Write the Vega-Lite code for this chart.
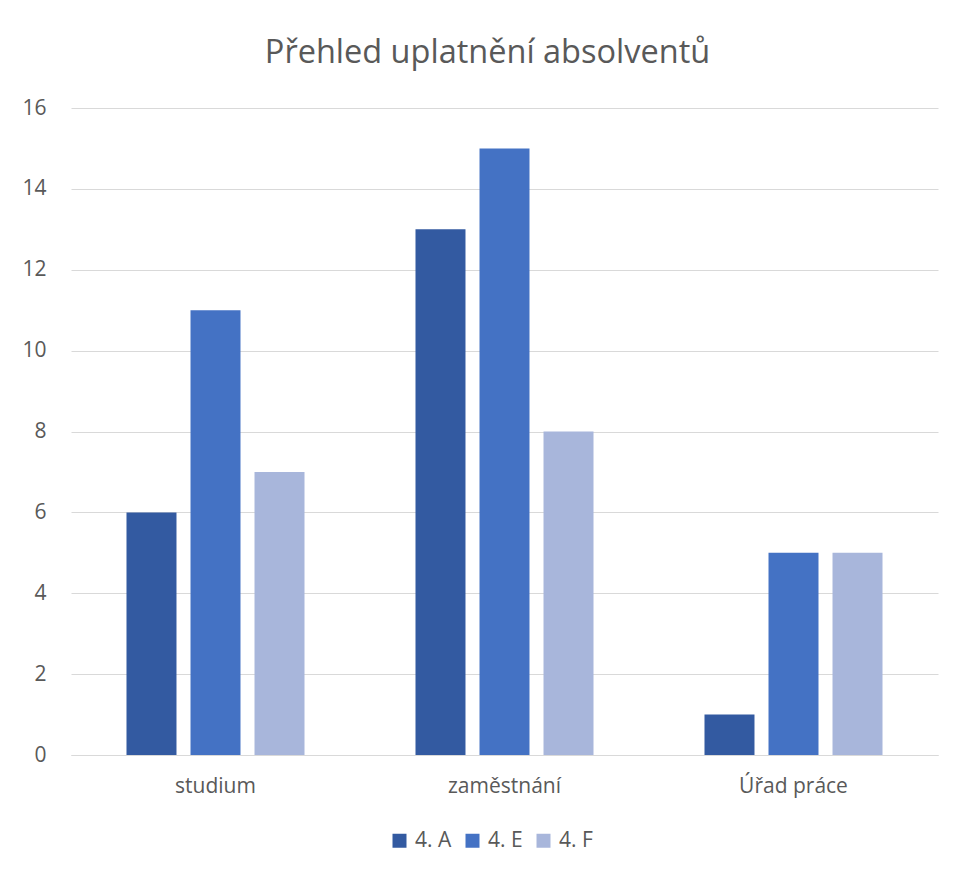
{
  "$schema": "https://vega.github.io/schema/vega-lite/v6.json",
  "width": 867,
  "height": 647,
  "autosize": {"type": "none"},
  "padding": {"left": 71, "top": 108, "right": 19, "bottom": 117},
  "background": "white",
  "title": {
    "text": "Přehled uplatnění absolventů",
    "font": "Open Sans",
    "fontSize": 32.5,
    "fontWeight": "normal",
    "color": "#595959",
    "anchor": "middle",
    "baseline": "alphabetic",
    "offset": 2,
    "dx": -17
  },
  "data": {
    "values": [
      {"kategorie": "studium", "trida": "4. A", "pocet": 6},
      {"kategorie": "studium", "trida": "4. E", "pocet": 11},
      {"kategorie": "studium", "trida": "4. F", "pocet": 7},
      {"kategorie": "zaměstnání", "trida": "4. A", "pocet": 13},
      {"kategorie": "zaměstnání", "trida": "4. E", "pocet": 15},
      {"kategorie": "zaměstnání", "trida": "4. F", "pocet": 8},
      {"kategorie": "Úřad práce", "trida": "4. A", "pocet": 1},
      {"kategorie": "Úřad práce", "trida": "4. E", "pocet": 5},
      {"kategorie": "Úřad práce", "trida": "4. F", "pocet": 5}
    ]
  },
  "mark": {"type": "bar"},
  "encoding": {
    "x": {
      "field": "kategorie",
      "type": "nominal",
      "sort": ["studium", "zaměstnání", "Úřad práce"],
      "scale": {"paddingInner": 0, "paddingOuter": 0},
      "axis": {
        "title": null,
        "labelAngle": 0,
        "ticks": false,
        "domain": true,
        "domainColor": "#d9d9d9",
        "domainWidth": 1,
        "labelFont": "Open Sans",
        "labelFontSize": 21,
        "labelColor": "#595959",
        "labelPadding": 20
      }
    },
    "xOffset": {
      "field": "trida",
      "type": "nominal",
      "sort": ["4. A", "4. E", "4. F"],
      "scale": {"paddingInner": 0.219, "paddingOuter": 0.867}
    },
    "y": {
      "field": "pocet",
      "type": "quantitative",
      "scale": {"domain": [0, 16]},
      "axis": {
        "title": null,
        "values": [0, 2, 4, 6, 8, 10, 12, 14, 16],
        "domain": false,
        "ticks": false,
        "grid": true,
        "gridColor": "#d9d9d9",
        "gridWidth": 1,
        "labelFont": "Open Sans",
        "labelFontSize": 21,
        "labelColor": "#595959",
        "labelPadding": 25
      }
    },
    "color": {
      "field": "trida",
      "type": "nominal",
      "sort": ["4. A", "4. E", "4. F"],
      "scale": {"domain": ["4. A", "4. E", "4. F"], "range": ["#335aa1", "#4472c4", "#a8b6db"]},
      "legend": {
        "title": null,
        "orient": "none",
        "direction": "horizontal",
        "legendX": 318,
        "legendY": 722,
        "padding": 0,
        "symbolType": "square",
        "symbolSize": 196,
        "symbolStrokeWidth": 0,
        "symbolOpacity": 1,
        "labelFont": "Open Sans",
        "labelFontSize": 21,
        "labelColor": "#595959",
        "labelOffset": 5,
        "columnPadding": 10
      }
    }
  },
  "config": {
    "view": {"stroke": null}
  }
}
